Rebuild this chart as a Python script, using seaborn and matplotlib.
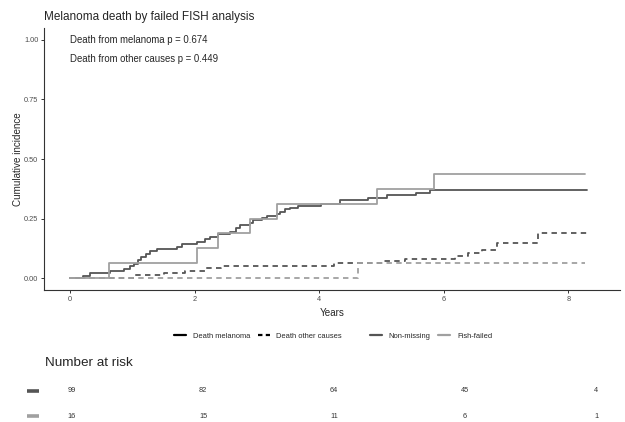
"""
Cumulative incidence of melanoma death by FISH status, with risk table.
"""

import matplotlib.pyplot as plt
import numpy as np
import pandas as pd
import seaborn as sns
from matplotlib.lines import Line2D

# cumulative incidence (event times in years)
nm_mel_t = [0, 0.20, 0.32, 0.64, 0.86, 0.96, 1.03, 1.09, 1.14, 1.21, 1.28,
            1.39, 1.71, 1.79, 2.03, 2.17, 2.25, 2.38, 2.57, 2.67, 2.73, 2.89,
            2.94, 3.08, 3.16, 3.32, 3.37, 3.45, 3.53, 3.66, 4.03, 4.33, 4.79,
            5.09, 5.56, 5.78, 8.30]
nm_mel_c = [0, 0.010, 0.021, 0.030, 0.040, 0.049, 0.059, 0.075, 0.089, 0.100,
            0.112, 0.121, 0.131, 0.142, 0.153, 0.163, 0.174, 0.187, 0.195,
            0.212, 0.223, 0.233, 0.243, 0.251, 0.259, 0.268, 0.279, 0.289,
            0.296, 0.303, 0.313, 0.326, 0.335, 0.347, 0.356, 0.368, 0.368]

ff_mel_t = [0, 0.63, 2.04, 2.37, 2.89, 3.32, 4.92, 5.85, 8.26]
ff_mel_c = [0, 0.0625, 0.125, 0.1875, 0.25, 0.3125, 0.375, 0.4375, 0.4375]

nm_oth_t = [0, 1.02, 1.50, 1.85, 2.17, 2.42, 4.23, 5.03, 5.38, 6.18, 6.39,
            6.62, 6.85, 7.52, 8.30]
nm_oth_c = [0, 0.011, 0.021, 0.031, 0.041, 0.052, 0.062, 0.072, 0.082, 0.093,
            0.105, 0.120, 0.148, 0.188, 0.188]

ff_oth_t = [0, 4.63, 8.26]
ff_oth_c = [0, 0.0625, 0.0625]

groups = ["Non-missing", "Fish-failed"]
causes = ["Death melanoma", "Death other causes"]
group_colors = {"Non-missing": "#555555", "Fish-failed": "#a0a0a0"}

risk_times = [0, 2, 4, 6, 8]
risk_nm = [99, 82, 64, 45, 4]
risk_ff = [16, 15, 11, 6, 1]

p_mel = 0.674
p_oth = 0.449

frames = []
for grp, cause, t, c in [
    ("Non-missing", "Death melanoma", nm_mel_t, nm_mel_c),
    ("Non-missing", "Death other causes", nm_oth_t, nm_oth_c),
    ("Fish-failed", "Death melanoma", ff_mel_t, ff_mel_c),
    ("Fish-failed", "Death other causes", ff_oth_t, ff_oth_c),
]:
    frames.append(pd.DataFrame({"time": t, "cuminc": c, "group": grp, "cause": cause}))
df = pd.concat(frames, ignore_index=True)

sns.set_style("white")
plt.rcParams["font.family"] = ["Liberation Sans", "DejaVu Sans"]

W, H = 625, 422
fig = plt.figure(figsize=(W / 100, H / 100), dpi=100)
ax = fig.add_axes([44 / W, 1 - 290 / H, 576 / W, 262 / H])

sns.lineplot(
    data=df, x="time", y="cuminc", hue="group", style="cause",
    hue_order=groups, style_order=causes, palette=group_colors,
    dashes={"Death melanoma": "", "Death other causes": (3, 2.4)},
    estimator=None, drawstyle="steps-post", lw=1.3, legend=False, ax=ax,
)

ax.set_xlim(-0.42, 8.83)
ax.set_ylim(-0.05, 1.05)
ax.set_xticks([0, 2, 4, 6, 8])
ax.set_yticks([0, 0.25, 0.5, 0.75, 1.0])
ax.set_yticklabels([f"{v:.2f}" for v in [0, 0.25, 0.5, 0.75, 1.0]])
for side in ["top", "right"]:
    ax.spines[side].set_visible(False)
for side in ["left", "bottom"]:
    ax.spines[side].set_color("#333333")
    ax.spines[side].set_linewidth(0.8)
ax.tick_params(length=2.5, width=0.7, color="#333333", labelsize=5.3,
               labelcolor="#4d4d4d", pad=1.5, left=True, bottom=True)

ax.set_xlabel("Years", fontsize=7.1, va="center")
ax.xaxis.set_label_coords(0.5, -0.088)
ax.set_ylabel("Cumulative incidence", fontsize=7.1, va="center")
ax.yaxis.set_label_coords(-0.045, 0.5)
ax.set_title("Melanoma death by failed FISH analysis", loc="left",
             fontsize=8.5, pad=6)

ax.text(0, 1.0, f"Death from melanoma p = {p_mel}", fontsize=6.9, va="center")
ax.text(0, 0.92, f"Death from other causes p = {p_oth}", fontsize=6.9, va="center")

# legends: linetype and colour, side by side
lt_handles = [
    Line2D([], [], color="black", lw=1.6),
    Line2D([], [], color="black", lw=1.6, dashes=(2, 1.5)),
]
col_handles = [Line2D([], [], color=group_colors[g], lw=1.6) for g in groups]
leg_kw = dict(loc="center left", frameon=False, ncol=2, fontsize=5.4,
              borderpad=0, borderaxespad=0, handlelength=1.6,
              handletextpad=0.9, columnspacing=1.0)
fig.legend(lt_handles, causes, bbox_to_anchor=(174 / W, 1 - 336 / H), **leg_kw)
fig.legend(col_handles, groups, bbox_to_anchor=(370 / W, 1 - 336 / H), **leg_kw)

# risk table
fig.text(45 / W, 1 - 363 / H, "Number at risk", fontsize=9.7, va="center")
tab = fig.add_axes([0, 0, 1, 42 / H])
tab.set_xlim(-72 / 65.5, (W - 72) / 65.5)
tab.set_ylim(1.24, -0.44)
tab.axis("off")
for row, (grp, counts) in enumerate(zip(groups, [risk_nm, risk_ff])):
    tab.plot([-0.687, -0.504], [row, row], color=group_colors[grp], lw=2.6,
             solid_capstyle="butt")
    for t, n in zip(risk_times, counts):
        tab.text(t, row, str(n), fontsize=5.3, color="#333333",
                 ha="center", va="center")

fig.savefig("out.png", dpi=100)
